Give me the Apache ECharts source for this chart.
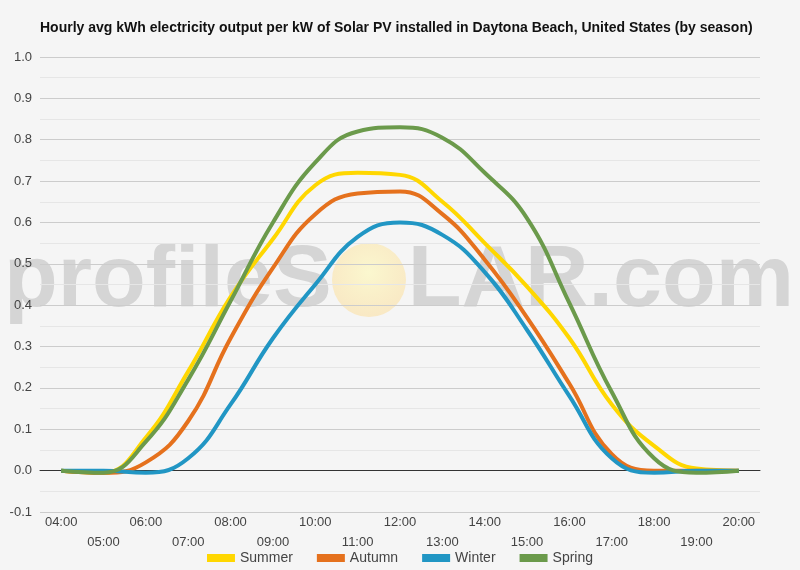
<!DOCTYPE html>
<html lang="en">
<head>
    <meta charset="UTF-8">
    <script src="https://cdn.jsdelivr.net/npm/echarts@6/dist/echarts.min.js"></script>
    <title>Daytona Beach solar output by season</title>
    <style>
        body { margin: 0; background: #f5f5f5; }
    </style>
</head>
<body>
    <div id="main" style="width: 800px;height:570px;"></div>

    <script type="text/javascript">
        var hours = ['04:00', '05:00', '06:00', '07:00', '08:00', '09:00', '10:00', '11:00', '12:00',
            '13:00', '14:00', '15:00', '16:00', '17:00', '18:00', '19:00', '20:00'];

        var summer = [0, -0.005, 0.08, 0.24, 0.42, 0.56, 0.69, 0.72, 0.715, 0.65, 0.55, 0.445, 0.32, 0.16, 0.06, 0.005, 0];
        var autumn = [0, -0.005, 0.02, 0.12, 0.32, 0.49, 0.62, 0.67, 0.675, 0.62, 0.51, 0.37, 0.21, 0.04, 0, 0, 0];
        var winter = [0, 0, -0.005, 0.03, 0.16, 0.32, 0.45, 0.565, 0.60, 0.57, 0.48, 0.34, 0.18, 0.03, -0.005, 0, 0];
        var spring = [0, -0.005, 0.07, 0.22, 0.41, 0.60, 0.745, 0.82, 0.83, 0.805, 0.72, 0.61, 0.405, 0.19, 0.03, -0.005, 0];

        var seasonNames = ['Summer', 'Autumn', 'Winter', 'Spring'];
        var seasonData = [summer, autumn, winter, spring];
        var colors = ['#ffd700', '#e5711d', '#2196c4', '#6b9a4b'];

        var myChart = echarts.init(document.getElementById('main'));

        var s = [];
        for (var k = 0; k < seasonNames.length; k++) {
            s.push({
                name: seasonNames[k],
                type: 'line',
                smooth: 0.45,
                symbol: 'none',
                lineStyle: { width: 4, color: colors[k] },
                itemStyle: { color: colors[k] },
                data: seasonData[k]
            });
        }

        var wmFont = { fontFamily: 'Liberation Sans', fontSize: 88, fontWeight: 'bold', fill: 'rgba(185,185,185,0.55)' };

        myChart.setOption({
            backgroundColor: '#f5f5f5',
            animation: false,
            title: {
                text: 'Hourly avg kWh electricity output per kW of Solar PV installed in Daytona Beach, United States (by season)',
                left: 35,
                top: 16,
                textStyle: { fontFamily: 'Liberation Sans', fontSize: 14, fontWeight: 'bold', color: '#111' }
            },
            // watermark
            graphic: [
                {
                    type: 'text', z: -10, silent: true,
                    left: 4, top: 238,
                    style: Object.assign({ text: 'profileS' }, wmFont)
                },
                {
                    type: 'circle', z: -10, silent: true,
                    shape: { cx: 369, cy: 280, r: 37 },
                    style: {
                        fill: {
                            type: 'radial', x: 0.5, y: 0.4, r: 0.6,
                            colorStops: [
                                { offset: 0, color: 'rgba(252,248,200,0.85)' },
                                { offset: 1, color: 'rgba(250,228,180,0.75)' }
                            ]
                        }
                    }
                },
                {
                    type: 'text', z: -10, silent: true,
                    right: 6, top: 238,
                    style: Object.assign({ text: 'LAR.com' }, wmFont)
                }
            ],
            grid: { left: 40, right: 40, top: 57, bottom: 58 },
            legend: {
                bottom: 0,
                left: 'center',
                itemWidth: 28,
                itemHeight: 8,
                itemGap: 24,
                icon: 'rect',
                textStyle: { fontFamily: 'Liberation Sans', fontSize: 14, color: '#444' },
                data: seasonNames
            },
            xAxis: {
                type: 'category',
                data: hours,
                boundaryGap: true,
                axisTick: { show: false },
                axisLine: { onZero: true, lineStyle: { color: '#333', width: 1 } },
                axisLabel: {
                    interval: 0,
                    color: '#444',
                    fontFamily: 'Liberation Sans',
                    fontSize: 13,
                    lineHeight: 20,
                    margin: 0,
                    formatter: function (v, i) { return i % 2 ? '\n' + v : v; }
                }
            },
            yAxis: {
                type: 'value',
                min: -0.1,
                max: 1.0,
                interval: 0.1,
                axisLine: { show: false },
                axisTick: { show: false },
                axisLabel: {
                    color: '#444',
                    fontFamily: 'Liberation Sans',
                    fontSize: 13,
                    margin: 8,
                    formatter: function (v) { return v.toFixed(1); }
                },
                splitLine: { lineStyle: { color: '#cccccc' } },
                minorTick: { show: false, splitNumber: 2 },
                minorSplitLine: { show: true, lineStyle: { color: '#e6e6e6' } }
            },
            series: s
        });
    </script>
</body>
</html>
